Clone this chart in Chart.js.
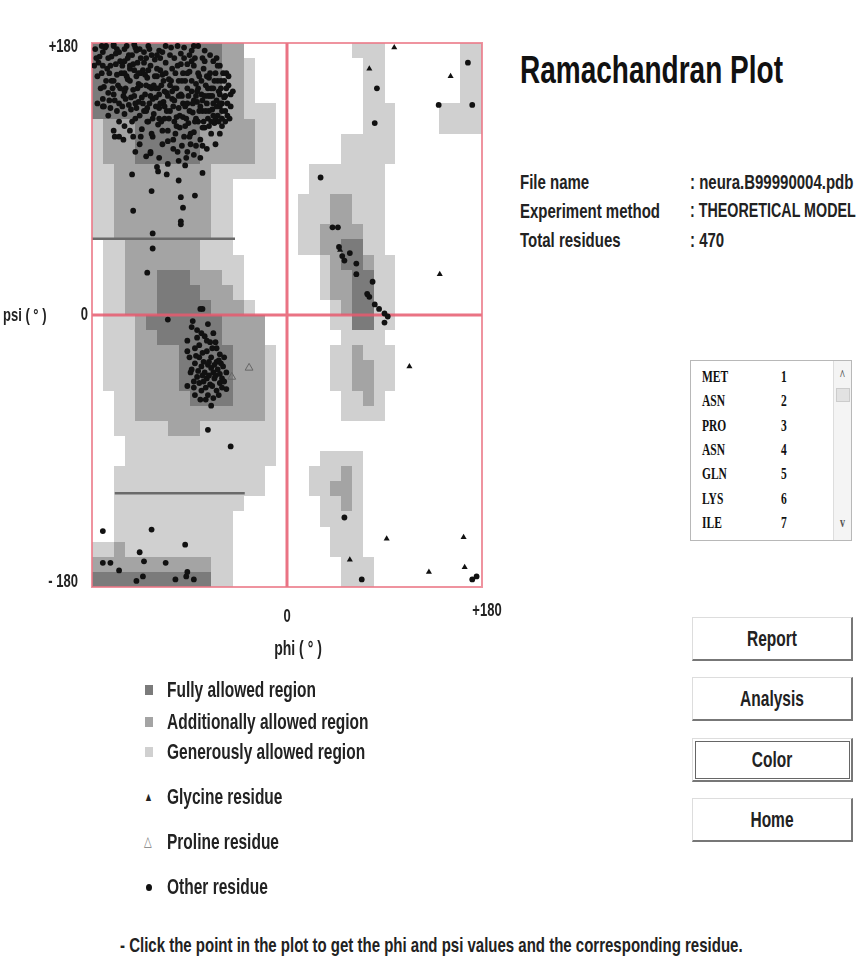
<!DOCTYPE html>
<html>
<head>
<meta charset="utf-8">
<title>Ramachandran Plot</title>
<script src="https://cdn.jsdelivr.net/npm/chart.js@4"></script>
<style>
  body { margin: 0; width: 868px; height: 974px; overflow: hidden; position: relative; background: #fff;
         font-family: "Liberation Sans", Arial, sans-serif; font-weight: bold; color: #222; }
  #plotBox { position: absolute; left: 0; top: 0; width: 520px; height: 680px; }
  /* the source screenshot is stretched vertically, so every text is scaled 1.4 in y */
  .t { position: absolute; white-space: nowrap; line-height: 1; transform-origin: 0 50%;
       transform: translateY(-50%) scaleY(1.4); }
  .c { text-align: center; transform-origin: 50% 50%; }
  .sq { position: absolute; width: 8px; height: 10px; left: 145px; }
  .btn { position: absolute; left: 692px; width: 158px; height: 41px; background: #fff;
         border-top: 1px solid #ddd; border-left: 1px solid #ddd;
         border-right: 2px solid #777; border-bottom: 2px solid #777; }
  .btn span { position: absolute; left: 0; width: 100%; top: 21px; font-size: 15.5px; }
  #listBox { position: absolute; left: 690px; top: 360px; width: 160px; height: 179px;
             border: 1px solid #b8b8b8; overflow: hidden; background: #fff; }
  #listBox .t { font-family: "Liberation Serif", "Times New Roman", serif; font-size: 11.5px; color: #111; }
  #scroll { position: absolute; right: 0; top: 0; width: 17px; height: 100%; background: #f4f4f4;
            border-left: 1px solid #ddd; }
</style>
</head>
<body>
<div id="plotBox"><canvas id="rama" width="520" height="680"></canvas></div>

<div class="t" style="left:520px; top:70px; font-size:28px; color:#111;">Ramachandran Plot</div>

<div class="t" style="left:520px; top:181px; font-size:15px;">File name</div>
<div class="t" style="left:520px; top:210px; font-size:15px;">Experiment method</div>
<div class="t" style="left:520px; top:239px; font-size:15px;">Total residues</div>
<div class="t" style="left:690px; top:181px; font-size:15px;">: neura.B99990004.pdb</div>
<div class="t" style="left:690px; top:210px; font-size:14.3px;">: THEORETICAL MODEL</div>
<div class="t" style="left:690px; top:239px; font-size:15px;">: 470</div>

<div id="listBox">
  <div id="scroll">
    <div class="t c" style="left:0; width:17px; top:15px; font-size:10px; color:#555;">^</div>
    <div style="position:absolute; left:2px; top:27px; width:12px; height:12px; background:#e2e2e2; border:1px solid #ccc;"></div>
    <div class="t c" style="left:0; width:17px; top:162px; font-size:10px; color:#555;">v</div>
  </div>
</div>

<div class="sq" style="top:685px; background:#7b7b7b;"></div>
<div class="sq" style="top:717px; background:#a4a4a4;"></div>
<div class="sq" style="top:747px; background:#d0d0d0;"></div>
<div class="t" style="left:144px; top:797px; font-size:9px;">&#9650;</div>
<div class="t" style="left:144px; top:842px; font-size:10px; color:#777; font-weight:normal;">&#9651;</div>
<div style="position:absolute; left:146px; top:884px; width:6px; height:7px; border-radius:50%; background:#111;"></div>
<div class="t" style="left:167px; top:690px; font-size:15.5px;">Fully allowed region</div>
<div class="t" style="left:167px; top:722px; font-size:15.5px;">Additionally allowed region</div>
<div class="t" style="left:167px; top:752px; font-size:15.5px;">Generously allowed region</div>
<div class="t" style="left:167px; top:797px; font-size:15.5px;">Glycine residue</div>
<div class="t" style="left:167px; top:842px; font-size:15.5px;">Proline residue</div>
<div class="t" style="left:167px; top:887px; font-size:15.5px;">Other residue</div>

<div class="btn" style="top:617px;"><span class="t c">Report</span></div>
<div class="btn" style="top:677px;"><span class="t c">Analysis</span></div>
<div class="btn" style="top:738px; outline:1px solid #666; outline-offset:-4px;"><span class="t c">Color</span></div>
<div class="btn" style="top:798px;"><span class="t c">Home</span></div>

<div class="t" style="left:120px; top:944px; font-size:15px;">- Click the point in the plot to get the phi and psi values and the corresponding residue.</div>

<script>
// axis ticks
const phiTicks = [-180, 0, 180];
const phiTickLabels = ['', '0', '+180'];
const psiTicks = [-180, 0, 180];
const psiTickLabels = ['- 180', '0', '+180'];

// residue list shown in the box
const listNames = ['MET', 'ASN', 'PRO', 'ASN', 'GLN', 'LYS', 'ILE', 'ASP'];
const listNumbers = [1, 2, 3, 4, 5, 6, 7, 8];

// regions as [phiFrom, phiTo, psiFrom, psiTo]
const generouslyAllowed = [
  [-180, -40, 170, 180], [-180, -30, 140, 170], [-180, -10, 90, 140], [-180, -50, 50, 90],
  [-170, -50, 40, 50], [-170, -40, 10, 40], [-170, -30, -20, 10], [-170, -10, -50, -20],
  [-160, -10, -80, -50], [-150, -10, -100, -80], [-160, -20, -120, -100], [-160, -40, -130, -120],
  [-160, -50, -150, -130], [-180, -50, -180, -150],
  [60, 90, 170, 180], [70, 90, 140, 170], [70, 100, 120, 140], [50, 100, 100, 120],
  [20, 90, 80, 100], [10, 90, 40, 80], [30, 100, 10, 40], [40, 100, -10, 10],
  [50, 90, -20, -10], [40, 100, -50, -20], [50, 90, -70, -50],
  [30, 70, -100, -90], [20, 70, -120, -100], [30, 70, -140, -120], [40, 70, -160, -140], [50, 80, -180, -160],
  [160, 180, 140, 180], [140, 180, 120, 140]
];
const additionallyAllowed = [
  [-180, -40, 130, 180], [-170, -30, 100, 130], [-160, -70, 50, 100], [-150, -80, 30, 50],
  [-150, -60, 20, 30], [-150, -50, 10, 20], [-150, -40, 0, 10], [-140, -20, -70, 0], [-110, -80, -80, -70],
  [-180, -70, -170, -160], [-160, -150, -160, -150],
  [40, 60, 60, 80], [30, 70, 40, 60], [40, 80, 10, 40], [50, 80, 0, 10], [60, 80, -10, 0],
  [60, 70, -50, -20], [70, 80, -60, -30], [50, 60, -130, -100], [40, 60, -120, -110]
];
const fullyAllowed = [
  [-180, -60, 130, 180], [-140, -80, 100, 130],
  [-120, -90, 20, 30], [-120, -80, 10, 20], [-120, -70, 0, 10], [-130, -60, -10, 0],
  [-120, -60, -20, -10], [-100, -50, -50, -20], [-90, -50, -60, -50],
  [-180, -70, -180, -170],
  [50, 70, 30, 50], [60, 80, 10, 30], [60, 80, -10, 10]
];
// dark horizontal lines seen in the plot: [phiFrom, phiTo, psi]
const guideLines = [[-180, -48, 50.5], [-159, -39, -118]];

// residues [phi, psi]
const otherResidues = [
  [-173,171],[-170,165],[-168,177],[-164,160],[-162,171],[-160,178],[-158,166],[-156,152],[-155,174],[-153,160],
  [-151,145],[-150,168],[-148,178],[-147,156],[-146,139],[-145,163],[-143,172],[-142,149],[-140,130],[-139,158],
  [-138,167],[-137,141],[-136,176],[-135,152],[-134,123],[-133,162],[-132,135],[-131,146],[-130,170],[-129,157],
  [-128,128],[-127,140],[-126,165],[-125,150],[-124,118],[-123,133],[-122,158],[-121,144],[-120,172],[-119,126],
  [-118,137],[-117,162],[-116,152],[-115,113],[-114,141],[-113,130],[-112,167],[-111,147],[-110,122],[-109,156],
  [-108,135],[-107,177],[-106,143],[-105,116],[-104,128],[-103,160],[-102,150],[-101,108],[-100,137],[-99,124],
  [-98,166],[-97,145],[-96,131],[-95,118],[-94,155],[-93,104],[-92,140],[-91,127],[-90,161],[-89,113],
  [-88,148],[-87,134],[-86,121],[-85,170],[-84,153],[-83,141],[-82,128],[-81,158],[-80,116],[-79,146],
  [-78,135],[-77,163],[-76,124],[-75,152],[-74,140],[-73,130],[-72,157],[-71,145],[-70,120],[-69,136],
  [-68,150],[-67,127],[-66,160],[-65,142],[-64,132],[-63,148],[-62,138],[-61,155],[-60,125],[-58,144],
  [-57,135],[-56,150],[-55,140],[-53,130],[-52,146],
  [-175,158],[-172,150],[-170,143],[-167,155],[-165,147],[-163,137],[-161,150],[-159,142],[-157,135],[-154,168],
  [-152,138],[-149,150],[-146,172],[-144,144],[-141,162],[-139,137],[-137,153],[-134,144],[-131,159],[-129,137],
  [-127,151],[-124,143],[-122,169],[-119,150],[-117,140],[-115,159],[-113,148],[-111,135],[-108,152],[-106,163],
  [-104,142],[-102,131],[-100,155],[-98,146],[-96,160],[-94,125],[-92,150],[-90,135],[-88,168],[-86,142],
  [-84,130],[-82,150],[-80,138],[-78,124],[-76,145],[-74,158],[-72,135],[-70,150],[-68,140],[-66,130],
  [-64,155],[-62,146],[-60,135],[-59,160],[-57,128],[-120,163],[-135,170],[-150,160],[-165,170],[-143,128],
  [-160,179],[-150,176],[-140,177],[-128,178],[-112,178],[-95,177],[-88,175],[-82,178],[-170,174],[-145,165],
  [-132,174],[-118,175],[-104,170],[-98,173],[-90,172],[-78,170],[-68,168],[-62,165],[-56,160],[-54,152],
  [-150,125],[-142,118],[-136,113],[-126,108],[-118,104],[-110,100],[-105,110],[-97,112],[-92,108],[-86,106],
  [-80,104],[-74,110],[-66,113],[-160,122],[-170,138],[-155,118],[-140,108],[-130,105],[-100,102],[-120,98],
  [-177,176],[-178,165],[-176,170],
  [-171,160],[-169,151],[-166,163],[-164,142],[-162,155],[-160,146],[-158,173],[-157,159],[-155,140],[-154,150],
  [-152,165],[-150,133],[-149,143],[-147,170],[-145,155],[-144,136],[-142,166],[-141,145],[-139,175],[-138,150],
  [-136,132],[-135,160],[-133,140],[-132,167],[-130,152],[-129,128],[-128,162],[-126,145],[-125,172],[-124,130],
  [-123,152],[-121,138],[-120,158],[-118,146],[-117,170],[-116,128],[-114,155],[-113,138],[-112,160],[-110,145],
  [-109,130],[-108,172],[-107,155],[-105,138],[-104,150],[-103,120],[-101,165],[-100,145],[-99,132],[-97,155],
  [-96,140],[-95,170],[-93,130],[-92,160],[-91,145],[-89,120],[-88,155],[-87,140],[-86,165],[-85,128],
  [-83,148],[-82,160],[-81,135],[-79,155],[-78,142],[-77,128],[-76,168],[-75,135],[-73,150],[-72,125],
  [-71,160],[-69,145],[-68,132],[-67,155],[-65,138],[-64,165],[-63,128],[-61,150],[-60,140],[-58,155],
  [-57,145],[-55,132],[-54,158],[-52,138],[-50,148],[-167,178],[-157,176],[-141,179],[-127,176],[-115,174],
  [-101,178],[-92,166],[-86,178],[-76,175],[-71,172],[-65,170],[-174,167],[-171,178],[-163,165],[-148,158],
  [-137,160],[-121,150],[-106,148],[-94,138],[-84,145],[-73,145],[-62,140],[-110,115],[-115,122],[-125,120],
  [-135,118],[-145,122],[-155,128],[-165,132],[-175,140],[-90,118],[-84,112],[-70,128],[-60,130],[-102,125],
  [-118,130],[-130,135],[-140,140],[-150,148],[-160,155],
  [-143,93],[-119,95],[-111,93],[-78,94],[-100,89],[-125,82],[-85,79],[-98,78],[-96,71],[-142,69],
  [-98,62],[-124,54],[-124,44],[-129,28],[-159,118],[-151,116],[-169,138],[-126,107],[-94,99],[-78,112],[-62,120],
  [-78,4],[-110,-3],[-87,-4],[-73,-6],[-83,-10],[-79,-12],[-68,-12],[-92,-17],[-71,-18],[-81,-20],
  [-85,-22],[-74,-24],[-65,-22],[-62,-26],[-90,-28],[-81,-28],[-70,-28],[-58,-28],[-85,-32],[-77,-31],
  [-73,-33],[-65,-31],[-59,-34],[-82,-37],[-76,-38],[-68,-38],[-62,-39],[-83,-41],[-74,-42],[-67,-42],
  [-92,-47],[-81,-45],[-71,-46],[-62,-45],[-56,-49],[-85,-53],[-73,-53],[-65,-50],[-73,-76],[-52,-87],
  [-80,4],[-98,60],[-70,-35],[-64,-36],[-78,-25],[-88,-36],[-60,-42],[-75,-48],[-68,-55],[-79,-50],
  [-66,-18],[-56,-38],[-72,-40],[-61,-32],
  [-88,-8],[-76,-14],[-92,-24],[-69,-22],[-84,-27],[-63,-30],[-79,-34],[-67,-33],[-86,-44],[-77,-44],
  [-69,-47],[-58,-44],[-80,-56],[-70,-60],[-63,-53],[-89,-38],[-74,-17],[-83,-15],[-72,-31],[-78,-40],
  [-66,-40],[-60,-48],[-86,-48],[-75,-56],
  [-170,-143],[-125,-142],[-94,-152],[-136,-157],[-170,-164],[-163,-164],[-132,-163],[-112,-164],
  [-155,-169],[-92,-170],[-133,-173],[-139,-176],[-103,-175],[-93,-173],[-86,-175],
  [140,139],[171,139],[167,167],[83,150],[81,127],[31,91],[42,58],[47,58],[48,45],[51,39],
  [53,36],[58,41],[64,34],[64,27],[79,22],[74,14],[76,12],[81,7],[85,4],[90,1],
  [93,-1],[90,-5],[53,-134],[69,-175],[171,-175],[175,-173]
];
const glycineResidues = [
  [99,177],[151,158],[76,163],[141,27],[113,-34],[92,-148],[163,-147],[58,-162],[131,-170],[164,-167],[49,43],[75,13]
];
const prolineResidues = [[-51,-41],[-35,-35]];

// list rows
const box = document.getElementById('listBox');
listNames.forEach(function(name, i) {
  const top = 16 + i * 24.3;
  box.insertAdjacentHTML('beforeend',
    '<div class="t" style="left:11px; top:' + top + 'px;">' + name + '</div>' +
    '<div class="t" style="left:90px; top:' + top + 'px;">' + listNumbers[i] + '</div>');
});

const toXY = function(p) { return { x: p[0], y: p[1] }; };

// shaded regions, dark guide lines, red frame and zero lines
const regionPlugin = {
  id: 'regions',
  beforeDatasetsDraw(chart) {
    const ctx = chart.ctx;
    const xs = chart.scales.x, ys = chart.scales.y;
    const area = chart.chartArea;
    function fillRects(list, color) {
      ctx.fillStyle = color;
      list.forEach(function(r) {
        const x1 = Math.round(xs.getPixelForValue(r[0])), x2 = Math.round(xs.getPixelForValue(r[1]));
        const y1 = Math.round(ys.getPixelForValue(r[3])), y2 = Math.round(ys.getPixelForValue(r[2]));
        ctx.fillRect(x1, y1, x2 - x1, y2 - y1);
      });
    }
    ctx.save();
    fillRects(generouslyAllowed, '#d0d0d0');
    fillRects(additionallyAllowed, '#a4a4a4');
    fillRects(fullyAllowed, '#7b7b7b');

    ctx.strokeStyle = '#6a6a6a';
    ctx.lineWidth = 2.5;
    guideLines.forEach(function(g) {
      const y = ys.getPixelForValue(g[2]);
      ctx.beginPath();
      ctx.moveTo(xs.getPixelForValue(g[0]), y);
      ctx.lineTo(xs.getPixelForValue(g[1]), y);
      ctx.stroke();
    });

    ctx.strokeStyle = 'rgba(230, 90, 110, 0.85)';
    ctx.lineWidth = 3;
    ctx.beginPath();
    ctx.moveTo(area.left, ys.getPixelForValue(0));
    ctx.lineTo(area.right, ys.getPixelForValue(0));
    ctx.moveTo(xs.getPixelForValue(0), area.top);
    ctx.lineTo(xs.getPixelForValue(0), area.bottom);
    ctx.stroke();

    ctx.strokeStyle = 'rgba(235, 120, 135, 0.8)';
    ctx.lineWidth = 2;
    ctx.strokeRect(area.left, area.top, area.right - area.left, area.bottom - area.top);
    ctx.restore();
  },
  afterDraw(chart) {
    const ctx = chart.ctx;
    const xs = chart.scales.x, ys = chart.scales.y;
    function label(text, x, y, align, size) {
      ctx.save();
      ctx.translate(x, y);
      ctx.scale(1, 1.4);
      ctx.font = 'bold ' + size + 'px "Liberation Sans", Arial, sans-serif';
      ctx.textAlign = align;
      ctx.textBaseline = 'middle';
      ctx.fillStyle = '#222';
      ctx.fillText(text, 0, 0);
      ctx.restore();
    }
    psiTicks.forEach(function(v, i) {
      const y = ys.getPixelForValue(v) + (v === 180 ? 4 : v === -180 ? -5 : 0);
      label(psiTickLabels[i], v === 0 ? 88 : 78, y, 'right', 13);
    });
    phiTicks.forEach(function(v, i) {
      if (!phiTickLabels[i]) return;
      const x = xs.getPixelForValue(v) + (v === 180 ? 5 : 0);
      label(phiTickLabels[i], x, v === 0 ? 617 : 611, 'center', 13);
    });
    label('psi ( \u00b0 )', 3, ys.getPixelForValue(0) + 1, 'left', 13);
    label('phi ( \u00b0 )', 298, 650, 'center', 14);
  }
};

new Chart(document.getElementById('rama').getContext('2d'), {
  type: 'scatter',
  data: {
    datasets: [
      {
        label: 'Other residue',
        data: otherResidues.map(toXY),
        pointStyle: 'circle',
        pointRadius: 2.9,
        backgroundColor: '#111',
        borderColor: '#111',
        borderWidth: 0
      },
      {
        label: 'Glycine residue',
        data: glycineResidues.map(toXY),
        pointStyle: 'triangle',
        pointRadius: 3.5,
        backgroundColor: '#111',
        borderColor: '#111',
        borderWidth: 0
      },
      {
        label: 'Proline residue',
        data: prolineResidues.map(toXY),
        pointStyle: 'triangle',
        pointRadius: 4.5,
        backgroundColor: 'rgba(0,0,0,0)',
        borderColor: '#666',
        borderWidth: 1
      }
    ]
  },
  options: {
    responsive: false,
    animation: false,
    layout: { padding: { left: 92, top: 43, right: 38, bottom: 93 } },
    scales: {
      x: { type: 'linear', min: -180, max: 180, display: false },
      y: { type: 'linear', min: -180, max: 180, display: false }
    },
    plugins: { legend: { display: false }, tooltip: { enabled: false } }
  },
  plugins: [regionPlugin]
});
</script>
</body>
</html>
